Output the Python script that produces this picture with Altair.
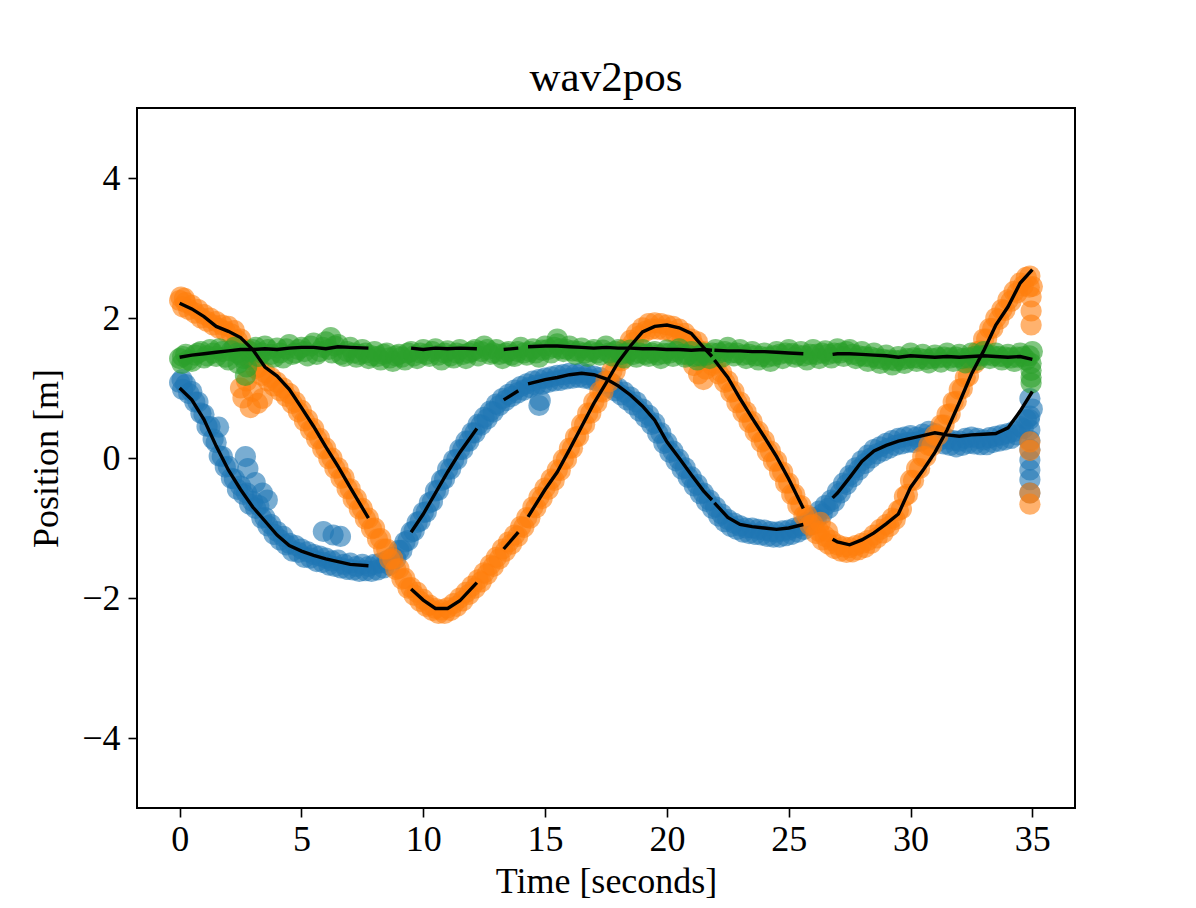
import altair as alt
import pandas as pd

# ---------------- data ----------------
SERIES = ["blue", "orange", "green"]
COLORS = ["#1f77b4", "#ff7f0e", "#2ca02c"]

# scatter sample times (two interleaved regular grids, 0.25 s apart)
SCATTER_T = [round(i * 0.25, 3) for i in range(141)]
SCATTER_T2 = [round(0.125 + i * 0.25, 3) for i in range(140)]

BLUE_PTS = [
    1.08, 1.05, 0.95, 0.80, 0.62, 0.45, 0.22, 0.02,
    -0.12, -0.30, -0.40, -0.50, -0.62, -0.68, -0.85, -0.95,
    -1.05, -1.12, -1.22, -1.25, -1.30, -1.34, -1.38, -1.40,
    -1.43, -1.47, -1.46, -1.52, -1.50, -1.55, -1.52, -1.55,
    -1.52, -1.50, -1.47, -1.42, -1.32, -1.20, -1.06, -0.92,
    -0.78, -0.64, -0.47, -0.32, -0.16, -0.03, 0.12, 0.24,
    0.36, 0.48, 0.58, 0.67, 0.77, 0.85, 0.91, 0.97,
    1.02, 1.06, 1.10, 1.12, 1.14, 1.16, 1.18, 1.19,
    1.21, 1.20, 1.22, 1.19, 1.17, 1.15, 1.10, 1.06,
    1.00, 0.94, 0.87, 0.80, 0.70, 0.61, 0.50, 0.36,
    0.22, 0.10, -0.02, -0.14, -0.27, -0.38, -0.50, -0.60,
    -0.70, -0.80, -0.88, -0.93, -0.97, -1.00, -1.00, -1.02,
    -1.03, -1.05, -1.06, -1.04, -1.03, -1.00, -0.97, -0.92,
    -0.85, -0.76, -0.68, -0.60, -0.48, -0.36, -0.25, -0.14,
    -0.04, 0.04, 0.12, 0.16, 0.21, 0.25, 0.28, 0.30,
    0.32, 0.30, 0.34, 0.38, 0.35, 0.30, 0.27, 0.25,
    0.24, 0.28, 0.30, 0.28, 0.26, 0.29, 0.31, 0.33,
    0.35, 0.38, 0.45, 0.55, 0.70,
]
BLUE_PTS2 = [
    0.98, 0.92, 0.80, 0.64, 0.45, 0.27, 0.03, -0.13,
    -0.29, -0.45, -0.52, -0.66, -0.72, -0.86, -0.97, -1.09,
    -1.17, -1.24, -1.33, -1.35, -1.42, -1.43, -1.48, -1.49,
    -1.53, -1.55, -1.57, -1.59, -1.60, -1.62, -1.61, -1.62,
    -1.60, -1.57, -1.53, -1.44, -1.32, -1.18, -1.04, -0.90,
    -0.77, -0.62, -0.46, -0.30, -0.16, -0.02, 0.12, 0.24,
    0.36, 0.47, 0.56, 0.66, 0.75, 0.82, 0.88, 0.93,
    0.97, 1.01, 1.04, 1.05, 1.08, 1.10, 1.11, 1.13,
    1.14, 1.15, 1.14, 1.12, 1.10, 1.06, 1.01, 0.96,
    0.90, 0.83, 0.76, 0.67, 0.58, 0.48, 0.35, 0.21,
    0.08, -0.04, -0.16, -0.28, -0.40, -0.51, -0.62, -0.72,
    -0.83, -0.91, -0.98, -1.02, -1.06, -1.08, -1.09, -1.10,
    -1.12, -1.13, -1.13, -1.11, -1.09, -1.06, -1.02, -0.96,
    -0.88, -0.80, -0.72, -0.62, -0.50, -0.38, -0.27, -0.17,
    -0.08, 0.00, 0.06, 0.10, 0.14, 0.18, 0.20, 0.22,
    0.22, 0.24, 0.28, 0.28, 0.24, 0.20, 0.18, 0.16,
    0.18, 0.21, 0.20, 0.19, 0.19, 0.22, 0.24, 0.26,
    0.28, 0.33, 0.42, 0.55,
]
BLUE_EXTRA_T = [0.1, 1.6, 2.7, 2.8, 3.1, 3.4, 3.6, 5.9, 6.3, 6.6, 14.75, 14.8,
                34.9, 34.9, 34.9, 34.9, 34.9, 34.9, 34.9, 34.9, 34.9]
BLUE_EXTRA_V = [1.12, 0.44, 0.02, -0.15, -0.35, -0.50, -0.60, -1.05, -1.10, -1.12, 0.75, 0.82,
                0.85, 0.60, 0.40, 0.25, 0.12, -0.03, -0.17, -0.31, -0.50]

ORANGE_PTS = [
    2.25, 2.22, 2.18, 2.12, 2.05, 2.00, 1.95, 1.90,
    1.88, 1.82, 1.70, 1.55, 1.42, 1.30, 1.22, 1.15,
    1.08, 1.00, 0.92, 0.80, 0.68, 0.55, 0.42, 0.28,
    0.14, 0.00, -0.14, -0.28, -0.44, -0.58, -0.72, -0.86,
    -1.00, -1.15, -1.30, -1.44, -1.58, -1.72, -1.85, -1.92,
    -2.02, -2.10, -2.15, -2.17, -2.14, -2.08, -2.00, -1.92,
    -1.83, -1.74, -1.64, -1.53, -1.42, -1.30, -1.20, -1.10,
    -0.98, -0.85, -0.70, -0.56, -0.43, -0.30, -0.17, -0.02,
    0.14, 0.30, 0.48, 0.64, 0.80, 0.95, 1.10, 1.25,
    1.40, 1.55, 1.68, 1.78, 1.86, 1.92, 1.93, 1.92,
    1.90, 1.88, 1.84, 1.78, 1.70, 1.66, 1.52, 1.45,
    1.35, 1.22, 1.10, 0.95, 0.80, 0.66, 0.52, 0.38,
    0.25, 0.10, -0.04, -0.20, -0.36, -0.52, -0.68, -0.82,
    -0.95, -1.05, -1.12, -1.18, -1.24, -1.27, -1.28, -1.25,
    -1.22, -1.18, -1.10, -1.02, -0.95, -0.86, -0.75, -0.55,
    -0.32, -0.15, 0.02, 0.18, 0.32, 0.47, 0.62, 0.80,
    0.98, 1.15, 1.35, 1.52, 1.70, 1.85, 2.00, 2.12,
    2.26, 2.38, 2.50, 2.58, 2.45,
]
ORANGE_PTS2 = [
    2.16, 2.12, 2.07, 2.00, 1.95, 1.90, 1.85, 1.81,
    1.77, 1.68, 1.55, 1.41, 1.28, 1.18, 1.10, 1.03,
    0.96, 0.88, 0.78, 0.66, 0.53, 0.40, 0.27, 0.13,
    -0.01, -0.15, -0.29, -0.44, -0.59, -0.73, -0.87, -1.01,
    -1.16, -1.30, -1.45, -1.59, -1.73, -1.86, -1.96, -2.05,
    -2.12, -2.18, -2.22, -2.22, -2.18, -2.12, -2.04, -1.95,
    -1.86, -1.77, -1.66, -1.55, -1.44, -1.33, -1.23, -1.12,
    -0.99, -0.86, -0.71, -0.58, -0.45, -0.32, -0.18, -0.02,
    0.14, 0.31, 0.48, 0.64, 0.79, 0.94, 1.09, 1.24,
    1.39, 1.53, 1.65, 1.74, 1.81, 1.84, 1.84, 1.83,
    1.81, 1.78, 1.73, 1.66, 1.60, 1.51, 1.40, 1.32,
    1.20, 1.08, 0.94, 0.79, 0.65, 0.51, 0.37, 0.23,
    0.09, -0.05, -0.20, -0.36, -0.52, -0.68, -0.83, -0.96,
    -1.08, -1.17, -1.23, -1.29, -1.33, -1.35, -1.34, -1.31,
    -1.28, -1.22, -1.14, -1.07, -0.98, -0.88, -0.73, -0.52,
    -0.32, -0.15, 0.02, 0.17, 0.32, 0.47, 0.63, 0.81,
    0.99, 1.17, 1.35, 1.53, 1.70, 1.85, 1.98, 2.11,
    2.24, 2.36, 2.46, 2.44,
]
ORANGE_EXTRA_T = [0.05, 0.2, 2.5, 2.6, 2.75, 2.9, 3.0, 3.2, 3.4, 21.1, 21.3, 21.5, 21.6,
                  26.3, 26.6, 34.9, 34.95, 34.95, 34.95, 34.9, 34.9, 34.9, 34.9]
ORANGE_EXTRA_V = [2.30, 2.28, 1.00, 0.86, 1.10, 0.72, 0.95, 0.78, 0.85, 1.32, 1.20, 1.12, 1.27,
                  -0.92, -1.05, 2.60, 2.30, 2.10, 1.90, 0.23, 0.11, -0.50, -0.66]

GREEN_PTS = [
    1.42, 1.48, 1.38, 1.50, 1.43, 1.55, 1.45, 1.52,
    1.40, 1.58, 1.47, 1.30, 1.55, 1.45, 1.60, 1.48,
    1.57, 1.43, 1.62, 1.50, 1.58, 1.46, 1.64, 1.52,
    1.66, 1.50, 1.62, 1.45, 1.58, 1.44, 1.55, 1.42,
    1.52, 1.40, 1.50, 1.38, 1.48, 1.40, 1.52, 1.42,
    1.55, 1.45, 1.56, 1.40, 1.53, 1.43, 1.55, 1.42,
    1.52, 1.46, 1.60, 1.48, 1.55, 1.42, 1.52, 1.45,
    1.58, 1.47, 1.56, 1.44, 1.60, 1.50, 1.63, 1.52,
    1.60, 1.48, 1.57, 1.45, 1.55, 1.47, 1.60, 1.46,
    1.55, 1.43, 1.54, 1.44, 1.55, 1.45, 1.52, 1.42,
    1.54, 1.45, 1.56, 1.44, 1.52, 1.40, 1.50, 1.42,
    1.55, 1.44, 1.58, 1.46, 1.55, 1.42, 1.52, 1.40,
    1.50, 1.38, 1.52, 1.42, 1.55, 1.44, 1.52, 1.40,
    1.55, 1.42, 1.53, 1.43, 1.56, 1.45, 1.55, 1.42,
    1.52, 1.38, 1.50, 1.35, 1.47, 1.33, 1.45, 1.35,
    1.50, 1.38, 1.48, 1.36, 1.47, 1.37, 1.50, 1.38,
    1.48, 1.36, 1.50, 1.40, 1.52, 1.42, 1.50, 1.40,
    1.48, 1.38, 1.50, 1.40, 1.52,
]
GREEN_PTS2 = [
    1.45, 1.40, 1.47, 1.52, 1.46, 1.50, 1.56, 1.44,
    1.53, 1.50, 1.42, 1.52, 1.58, 1.50, 1.55, 1.44,
    1.50, 1.56, 1.48, 1.55, 1.52, 1.60, 1.48, 1.58,
    1.55, 1.60, 1.48, 1.52, 1.50, 1.48, 1.50, 1.46,
    1.45, 1.48, 1.43, 1.46, 1.44, 1.50, 1.46, 1.50,
    1.48, 1.52, 1.47, 1.50, 1.46, 1.50, 1.48, 1.50,
    1.55, 1.52, 1.55, 1.50, 1.48, 1.50, 1.47, 1.52,
    1.50, 1.52, 1.50, 1.54, 1.55, 1.58, 1.56, 1.55,
    1.53, 1.52, 1.50, 1.52, 1.50, 1.54, 1.50, 1.52,
    1.48, 1.50, 1.48, 1.50, 1.48, 1.50, 1.47, 1.49,
    1.50, 1.52, 1.48, 1.47, 1.45, 1.46, 1.47, 1.50,
    1.50, 1.52, 1.50, 1.50, 1.47, 1.48, 1.46, 1.45,
    1.44, 1.46, 1.48, 1.50, 1.49, 1.47, 1.46, 1.48,
    1.48, 1.50, 1.48, 1.50, 1.50, 1.52, 1.48, 1.46,
    1.45, 1.44, 1.42, 1.41, 1.40, 1.39, 1.40, 1.42,
    1.43, 1.42, 1.41, 1.42, 1.43, 1.44, 1.43, 1.44,
    1.42, 1.43, 1.45, 1.46, 1.47, 1.46, 1.45, 1.44,
    1.43, 1.44, 1.45, 1.46,
]
GREEN_EXTRA_T = [0.1, 2.4, 2.7, 6.2, 15.5, 34.95, 34.95, 34.95, 34.95]
GREEN_EXTRA_V = [1.35, 1.35, 1.18, 1.72, 1.70, 1.35, 1.25, 1.15, 1.07]

# estimated trajectories (black lines); None = gap in the line
LINE_T = [0, 0.5, 1, 1.5, 2, 2.5, 3, 3.5, 4, 4.5, 5, 5.5, 6, 6.5, 7, 7.75, None,
          9.5, 10, 10.5, 11, 11.5, 12.2, None,
          13.3, 13.9, None,
          14.3, 15, 15.5, 16, 16.5, 17, 17.5, 18, 18.5, 19, 19.5, 20, 20.5, 21, 21.5, 21.85, None,
          21.95, 22.5, 23, 23.5, 24, 24.5, 25, 25.6, None,
          26.8, 27, 27.5, 28, 28.5, 29, 29.5, 30, 30.5, 31, 31.5, 32, 32.5, 33, 33.5, 34, 34.5, 35]
BLUE_LINE = [1.0, 0.83, 0.55, 0.17, -0.17, -0.45, -0.7, -0.9, -1.1, -1.25, -1.33, -1.39, -1.44, -1.48, -1.52, -1.54, None,
             -1.06, -0.8, -0.5, -0.2, 0.08, 0.42, None,
             0.83, 0.96, None,
             1.06, 1.12, 1.15, 1.19, 1.21, 1.19, 1.13, 1.03, 0.9, 0.74, 0.54, 0.23, 0.0, -0.24, -0.47, -0.6, None,
             -0.64, -0.85, -0.95, -0.98, -1.0, -1.02, -1.0, -0.95, None,
             -0.57, -0.5, -0.28, -0.05, 0.1, 0.18, 0.24, 0.28, 0.32, 0.36, 0.33, 0.31, 0.33, 0.34, 0.35, 0.43, 0.67, 0.95]
ORANGE_LINE = [2.21, 2.13, 2.02, 1.88, 1.81, 1.72, 1.55, 1.3, 1.17, 0.98, 0.72, 0.45, 0.16, -0.12, -0.42, -0.86, None,
               -1.87, -2.03, -2.15, -2.15, -2.04, -1.78, None,
               -1.3, -1.06, None,
               -0.84, -0.45, -0.2, 0.12, 0.45, 0.78, 1.07, 1.37, 1.6, 1.8, 1.88, 1.9, 1.86, 1.78, 1.58, 1.45, None,
               1.4, 1.15, 0.85, 0.57, 0.3, 0.02, -0.3, -0.72, None,
               -1.16, -1.2, -1.24, -1.17, -1.07, -0.94, -0.8, -0.42, -0.18, 0.08, 0.4, 0.79, 1.2, 1.53, 1.9, 2.16, 2.5, 2.69]
GREEN_LINE = [1.44, 1.47, 1.49, 1.51, 1.53, 1.55, 1.55, 1.56, 1.55, 1.57, 1.58, 1.58, 1.56, 1.59, 1.58, 1.57, None,
              1.57, 1.55, 1.57, 1.56, 1.57, 1.56, None,
              1.55, 1.57, None,
              1.59, 1.6, 1.6, 1.59, 1.58, 1.57, 1.58, 1.57, 1.57, 1.56, 1.56, 1.55, 1.55, 1.54, 1.55, 1.54, None,
              1.54, 1.53, 1.53, 1.52, 1.52, 1.51, 1.5, 1.49, None,
              1.48, 1.49, 1.49, 1.48, 1.47, 1.46, 1.44, 1.46, 1.45, 1.44, 1.45, 1.44, 1.45, 1.46, 1.45, 1.44, 1.45, 1.41]

X_TICKS = [0, 5, 10, 15, 20, 25, 30, 35]
Y_TICKS = [-4, -2, 0, 2, 4]
X_DOMAIN = [-1.75, 36.75]
Y_DOMAIN = [-5, 5]

# ---------------- tables ----------------
pts = []
for name, v1, v2, et, ev in [
    ("blue", BLUE_PTS, BLUE_PTS2, BLUE_EXTRA_T, BLUE_EXTRA_V),
    ("orange", ORANGE_PTS, ORANGE_PTS2, ORANGE_EXTRA_T, ORANGE_EXTRA_V),
    ("green", GREEN_PTS, GREEN_PTS2, GREEN_EXTRA_T, GREEN_EXTRA_V),
]:
    for t, v in zip(SCATTER_T, v1):
        pts.append({"t": t, "v": v, "series": name})
    for t, v in zip(SCATTER_T2, v2):
        pts.append({"t": t, "v": v, "series": name})
    for t, v in zip(et, ev):
        pts.append({"t": t, "v": v, "series": name})
pts_df = pd.DataFrame(pts)
pts_df["idx"] = range(len(pts_df))

lines = []
for name, vals in [("blue", BLUE_LINE), ("orange", ORANGE_LINE), ("green", GREEN_LINE)]:
    seg = 0
    for t, v in zip(LINE_T, vals):
        if t is None or v is None:
            seg += 1
            continue
        lines.append({"t": t, "v": v, "seg": f"{name}-{seg}"})
line_df = pd.DataFrame(lines)

FONT = "Liberation Serif"

x_enc = alt.X(
    "t:Q",
    scale=alt.Scale(domain=X_DOMAIN, nice=False, zero=False),
    axis=alt.Axis(
        values=X_TICKS, format="d", grid=False, domain=False, tickColor="black", tickWidth=1.6,
        tickSize=9, labelFont=FONT, labelFontSize=36, labelColor="black",
        labelPadding=5, labelFlush=False, labelOverlap=False,
        title="Time [seconds]", titleFont=FONT, titleFontSize=36,
        titleFontWeight="normal", titleColor="black", titleBaseline="alphabetic",
        titleY=84,
    ),
)
y_enc = alt.Y(
    "v:Q",
    scale=alt.Scale(domain=Y_DOMAIN, nice=False, zero=False),
    axis=alt.Axis(
        values=Y_TICKS, format="d", grid=False, domain=False, tickColor="black", tickWidth=1.6,
        tickSize=9, labelFont=FONT, labelFontSize=36, labelColor="black",
        labelPadding=8, labelFlush=False, labelOverlap=False,
        labelExpr="replace(datum.label, '-', '\u2212')",
        title="Position [m]", titleFont=FONT, titleFontSize=36,
        titleFontWeight="normal", titleColor="black", titleBaseline="alphabetic",
        titleAngle=270, titleAlign="center", titleX=-80, titleY=350,
    ),
)

color_scale = alt.Scale(domain=SERIES, range=COLORS)
scatter = alt.Chart(pts_df).mark_circle(size=450, opacity=0.6).encode(
    x=x_enc,
    y=y_enc,
    color=alt.Color("series:N", scale=color_scale, legend=None),
    order=alt.Order("idx:Q"),
)

line = alt.Chart(line_df).mark_line(color="black", strokeWidth=3.4).encode(
    x="t:Q",
    y="v:Q",
    detail="seg:N",
)

chart = (
    alt.layer(scatter, line)
    .properties(
        width=938,
        height=700,
        title=alt.Title("wav2pos", font=FONT, fontSize=43, fontWeight="normal",
                        color="black", anchor="middle", frame="group",
                        baseline="alphabetic", offset=16, dy=42),
        autosize=alt.AutoSizeParams(type="none"),
        padding={"left": 129, "top": 100, "right": 113, "bottom": 92},
    )
    .configure(background="white")
    .configure_view(stroke="black", strokeWidth=2)
)

chart.save("out.html", embed_options={"renderer": "svg", "actions": False})
